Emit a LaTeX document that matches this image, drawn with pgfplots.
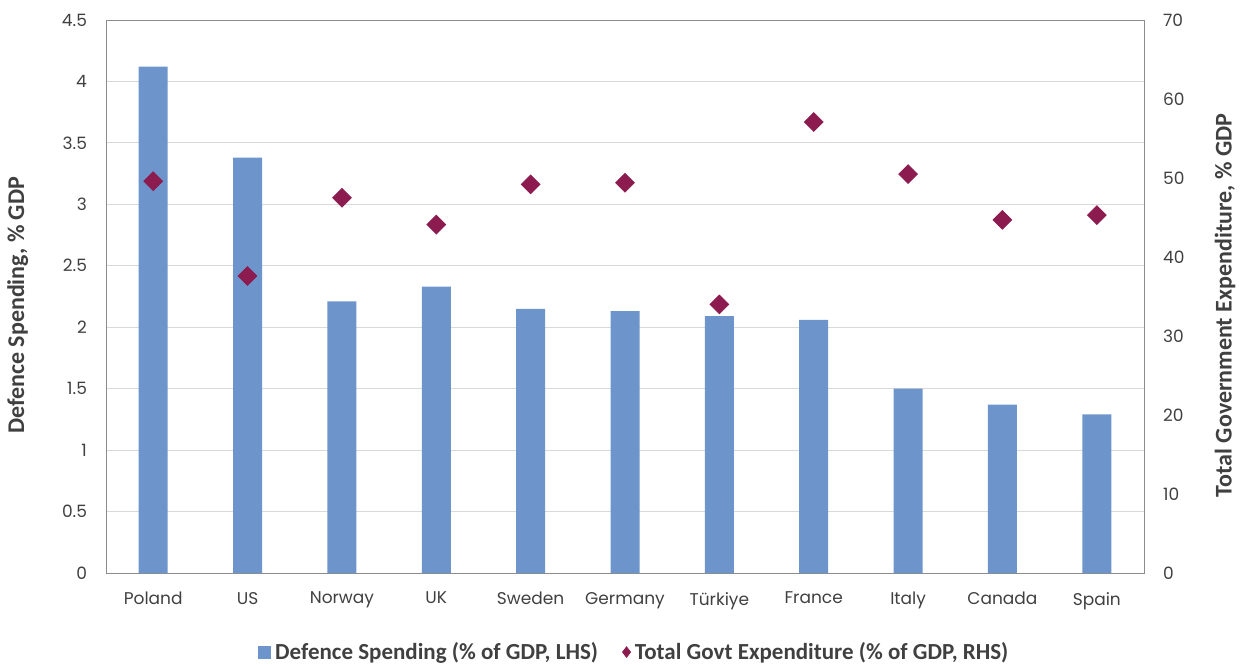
\documentclass[border=0pt]{standalone}
\usepackage{pgfplots}
\pgfplotsset{compat=1.18}
\usepackage{fontspec}
\setmainfont{Carlito}
\newfontfamily\tickfont{Poppins}
\definecolor{barblue}{HTML}{6E95CB}
\definecolor{maroon}{HTML}{8C1B4F}
\definecolor{gridgray}{HTML}{D9D9D9}
\definecolor{boxgray}{HTML}{8C8C8C}
\definecolor{txt}{HTML}{404040}
\begin{document}
\begin{tikzpicture}
\path[use as bounding box] (-53pt,-45.5pt) rectangle (568pt,286.5pt);
\pgfplotsset{
  common/.style={
    scale only axis, width=519pt, height=276.5pt,
    xmin=-0.5, xmax=10.5,
    major tick length=0pt,
    /pgf/number format/assume math mode=true,
    tick label style={font=\tickfont\fontsize{8.5}{10}\selectfont, text=txt},
    label style={font=\bfseries\fontsize{12}{14}\selectfont, text=txt},
  }
}
\begin{axis}[common,
  axis line style={boxgray},
  ymin=0, ymax=4.5, ytick={0,0.5,...,4.5},
  ymajorgrids, grid style={gridgray},
  xtick={0,...,10},
  xticklabels={Poland,US,Norway,UK,Sweden,Germany,Türkiye,France,Italy,Canada,Spain},
  xticklabel style={yshift=-6pt},
  yticklabel style={xshift=-6pt},
  ylabel={Defence Spending, \% GDP},
  ylabel style={at={(axis description cs:-0.085,0.484)}, anchor=center},
  ybar, bar width=14.5pt,
]
\addplot[fill=barblue, draw=none] coordinates {
(0,4.12) (1,3.38) (2,2.21) (3,2.33) (4,2.15) (5,2.13) (6,2.09) (7,2.06) (8,1.50) (9,1.37) (10,1.29)};
\end{axis}
\begin{axis}[common,
  axis y line*=right, axis x line=none,
  ymin=0, ymax=70, ytick={0,10,...,70},
  yticklabel style={xshift=6pt},
  ylabel={Total Government Expenditure, \% GDP},
  ylabel style={at={(axis description cs:1.078,0.484)}, anchor=center},
  y axis line style={draw=none},
  legend style={at={(axis description cs:0.51,-0.143)}, anchor=center, draw=none,
    font=\bfseries\fontsize{11.5}{13}\selectfont, text=txt, legend columns=2,
    /tikz/every even column/.style={column sep=10pt},
    inner xsep=0pt},
  legend cell align=left,
]
\addlegendimage{legend image code/.code={\fill[barblue] (0pt,-3pt) rectangle (6pt,3pt);}}
\addlegendentry{Defence Spending (\% of GDP, LHS)}
\addplot[only marks, mark=square*, mark size=3.3pt, mark options={fill=maroon, draw=maroon, rotate=45}, forget plot] coordinates {
(0,49.6) (1,37.6) (2,47.5) (3,44.1) (4,49.2) (5,49.4) (6,34.0) (7,57.1) (8,50.5) (9,44.7) (10,45.3)};
\addlegendimage{legend image code/.code={\fill[maroon] (3pt,-2.6pt) -- (5pt,0pt) -- (3pt,2.6pt) -- (1pt,0pt) -- cycle;}}
\addlegendentry{Total Govt Expenditure (\% of GDP, RHS)}
\end{axis}
\end{tikzpicture}
\end{document}
